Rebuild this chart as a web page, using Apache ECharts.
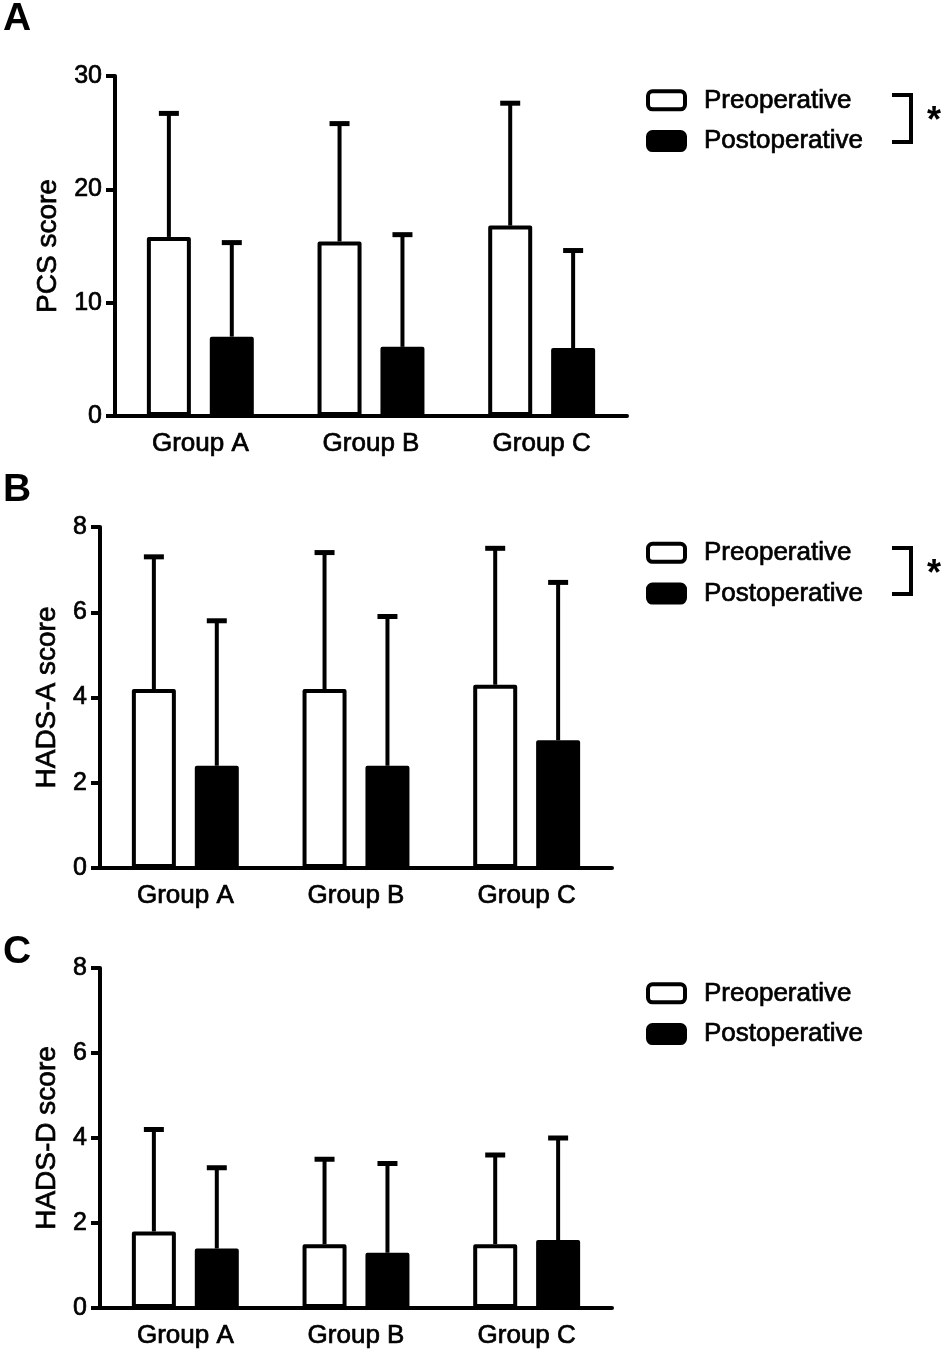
<!DOCTYPE html>
<html><head><meta charset="utf-8">
<script src="https://cdn.jsdelivr.net/npm/echarts@6/dist/echarts.min.js"></script>
<style>html,body{margin:0;padding:0;background:#fff}#c{width:945px;height:1358px}</style>
</head><body><div id="c"></div>
<script>
const categories = ['Group A', 'Group B', 'Group C'];
const seriesNames = ['Preoperative', 'Postoperative'];
// Panel A: PCS score
const pcsPre = [15.8, 15.4, 16.8];
const pcsPreUpper = [26.7, 25.8, 27.6];
const pcsPost = [7.0, 6.1, 6.0];
const pcsPostUpper = [15.3, 16.0, 14.6];
// Panel B: HADS-A score
const hadsAPre = [4.2, 4.2, 4.3];
const hadsAPreUpper = [7.3, 7.4, 7.5];
const hadsAPost = [2.4, 2.4, 3.0];
const hadsAPostUpper = [5.8, 5.9, 6.7];
// Panel C: HADS-D score
const hadsDPre = [1.8, 1.5, 1.5];
const hadsDPreUpper = [4.2, 3.5, 3.6];
const hadsDPost = [1.4, 1.3, 1.6];
const hadsDPostUpper = [3.3, 3.4, 4.0];
const panelLetters = ['A', 'B', 'C'];
const yTitles = ['PCS score', 'HADS-A score', 'HADS-D score'];
const yMax = [30, 8, 8];
const yInterval = [10, 2, 2];

const FONT = '"Liberation Sans", Arial, sans-serif';
const BAR_W = 44, BAR_GAP = 0.43;
const OFF = BAR_W * (1 + BAR_GAP) / 2;
const THICK = {textBorderColor: '#000', textBorderWidth: 0.7};

const panels = [
  {pre: pcsPre, preU: pcsPreUpper, post: pcsPost, postU: pcsPostUpper},
  {pre: hadsAPre, preU: hadsAPreUpper, post: hadsAPost, postU: hadsAPostUpper},
  {pre: hadsDPre, preU: hadsDPreUpper, post: hadsDPost, postU: hadsDPostUpper}
];
const grids = [
  {left: 115, width: 512, top: 76, height: 340},
  {left: 100, width: 512, top: 527, height: 341},
  {left: 100, width: 512, top: 968, height: 340}
];
const nameGaps = [51, 36, 36];
const legendTops = [82, 534.5, 975];

function errSeries(gi, vals, uppers, side) {
  return {
    type: 'custom', xAxisIndex: gi, yAxisIndex: gi, z: 5, silent: true,
    data: vals.map((v, i) => [i, v, uppers[i]]),
    renderItem: function (params, api) {
      const p0 = api.coord([api.value(0), api.value(1)]);
      const p1 = api.coord([api.value(0), api.value(2)]);
      const x = p0[0] + side * OFF;
      return {
        type: 'group',
        children: [
          {type: 'line', shape: {x1: x, y1: p0[1], x2: x, y2: p1[1]}, style: {stroke: '#000', lineWidth: 4}},
          {type: 'line', shape: {x1: x - 10, y1: p1[1], x2: x + 10, y2: p1[1]}, style: {stroke: '#000', lineWidth: 5}}
        ]
      };
    }
  };
}

const series = [];
panels.forEach((p, gi) => {
  series.push({
    name: seriesNames[0], type: 'bar', xAxisIndex: gi, yAxisIndex: gi,
    data: p.pre, barWidth: BAR_W, barGap: (BAR_GAP * 100) + '%',
    itemStyle: {color: '#fff', borderColor: '#000', borderWidth: 4, borderJoin: 'round'}
  });
  series.push({
    name: seriesNames[1], type: 'bar', xAxisIndex: gi, yAxisIndex: gi,
    data: p.post, barWidth: BAR_W, barGap: (BAR_GAP * 100) + '%',
    itemStyle: {color: '#000', borderColor: '#000', borderWidth: 4, borderJoin: 'round'}
  });
  series.push(errSeries(gi, p.pre, p.preU, -1));
  series.push(errSeries(gi, p.post, p.postU, 1));
});

const xAxis = grids.map((g, gi) => ({
  type: 'category', gridIndex: gi, data: categories,
  axisLine: {lineStyle: {color: '#000', width: 4}},
  axisTick: {alignWithLabel: true, length: 7, lineStyle: {color: '#000', width: 4}},
  axisLabel: Object.assign({color: '#000', fontSize: 26, fontFamily: FONT, margin: 15}, THICK)
}));
const yAxis = grids.map((g, gi) => ({
  type: 'value', gridIndex: gi, min: 0, max: yMax[gi], interval: yInterval[gi],
  name: yTitles[gi], nameLocation: 'middle', nameGap: nameGaps[gi],
  nameTextStyle: Object.assign({color: '#000', fontSize: 28, fontFamily: FONT}, THICK),
  splitLine: {show: false},
  axisLine: {show: true, lineStyle: {color: '#000', width: 4}},
  axisTick: {show: true, length: 9, lineStyle: {color: '#000', width: 4}},
  axisLabel: Object.assign({color: '#000', fontSize: 25, fontFamily: FONT, margin: 13}, THICK)
}));
const legend = grids.map((g, gi) => ({
  orient: 'vertical', left: 641, top: legendTops[gi],
  itemWidth: 37, itemHeight: 18, itemGap: 14, selectedMode: false,
  data: [
    {name: seriesNames[0], icon: 'roundRect', itemStyle: {color: '#fff', borderColor: '#000', borderWidth: 4}},
    {name: seriesNames[1], icon: 'roundRect', itemStyle: {color: '#000', borderColor: '#000', borderWidth: 4}}
  ],
  textStyle: Object.assign({color: '#000', fontSize: 26, fontFamily: FONT, lineHeight: 26, padding: [0, 0, 0, 14]}, THICK)
}));

const graphic = [];
panelLetters.forEach((L, i) => {
  graphic.push({type: 'text', left: 3, top: [0, 471, 933][i],
    style: {text: L, fill: '#000', font: 'bold 39px ' + FONT}});
});
// significance brackets (panels A and B)
[[95, 142, 117], [548, 594, 570]].forEach(b => {
  graphic.push({type: 'polyline', shape: {points: [[892, b[0]], [911, b[0]], [911, b[1]], [892, b[1]]]},
    style: {stroke: '#000', lineWidth: 4, fill: null}});
  graphic.push({type: 'text', x: 934, y: b[2] + 5,
    style: {text: '*', fill: '#000', font: 'bold 36px ' + FONT, textAlign: 'center', textVerticalAlign: 'middle'}});
});

const chart = echarts.init(document.getElementById('c'), null, {renderer: 'canvas'});
chart.setOption({
  backgroundColor: '#fff', animation: false,
  grid: grids, xAxis: xAxis, yAxis: yAxis, legend: legend, series: series, graphic: graphic
});
</script></body></html>
